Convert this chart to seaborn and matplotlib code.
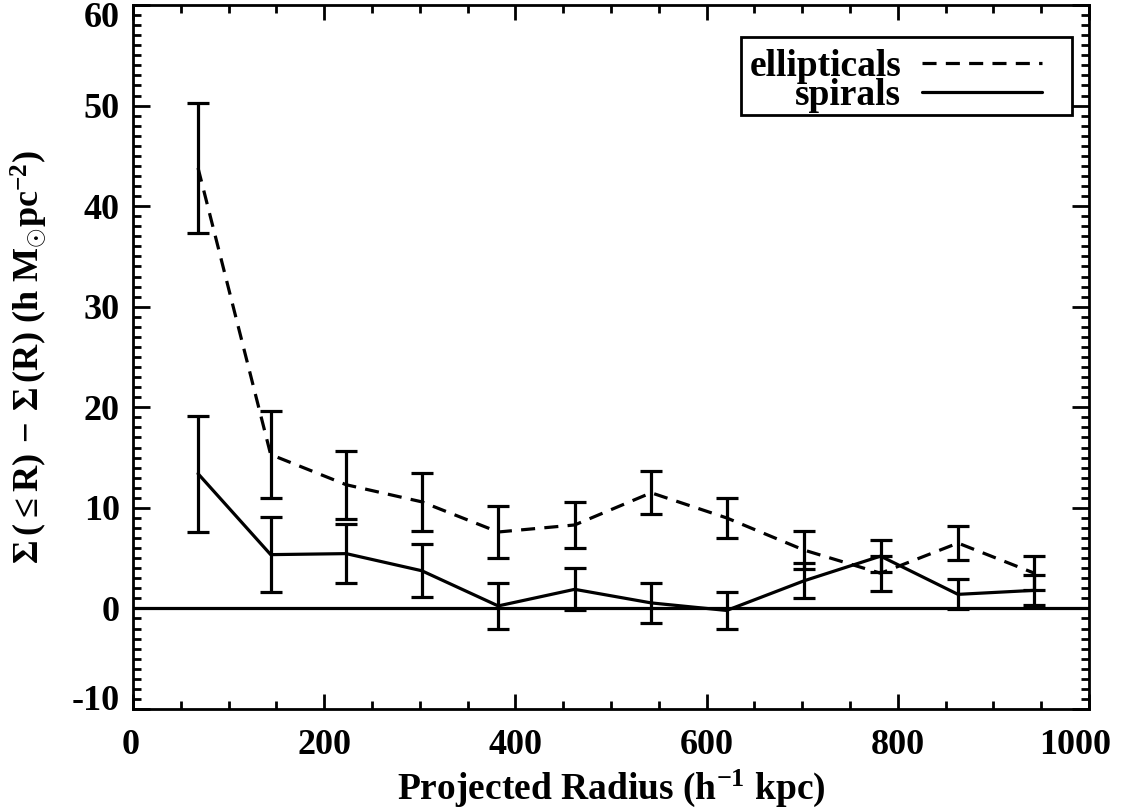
import matplotlib
matplotlib.use("Agg")
import matplotlib.pyplot as plt
import matplotlib.transforms as mtransforms
from matplotlib.patches import Rectangle
from matplotlib.ticker import MultipleLocator
import pandas as pd
import seaborn as sns

# Excess surface density profiles around the two galaxy populations
radius = [68, 144, 223, 302, 382, 462, 542, 621, 702, 782, 863, 943]
ell_sigma = [43.8, 15.3, 12.3, 10.6, 7.6, 8.3, 11.5, 9.0, 5.8, 3.5, 6.5, 3.5]
ell_err = [6.5, 4.3, 3.4, 2.9, 2.55, 2.3, 2.15, 2.0, 1.9, 1.75, 1.7, 1.7]
spi_sigma = [13.4, 5.35, 5.45, 3.75, 0.25, 1.9, 0.55, -0.2, 2.75, 5.2, 1.4, 1.8]
spi_err = [5.75, 3.75, 2.95, 2.65, 2.25, 2.1, 1.95, 1.8, 1.75, 1.6, 1.5, 1.5]

series_names = ["ellipticals", "spirals"]
x_ticks = [0, 200, 400, 600, 800, 1000]
y_ticks = [-10, 0, 10, 20, 30, 40, 50, 60]

sns.set_theme(style="ticks")
plt.rcParams.update({
    "font.family": ["Liberation Serif", "DejaVu Serif"],
    "font.weight": "bold",
    "axes.labelweight": "bold",
    "mathtext.fontset": "custom",
    "mathtext.rm": "Liberation Serif:bold",
    "mathtext.it": "Liberation Serif:bold",
    "mathtext.bf": "Liberation Serif:bold",
    "mathtext.sf": "Liberation Serif:bold",
    "axes.unicode_minus": False,
    "axes.edgecolor": "black",
    "axes.linewidth": 2.0,
    "text.color": "black",
    "axes.labelcolor": "black",
    "xtick.color": "black",
    "ytick.color": "black",
    "figure.facecolor": "white",
    "axes.facecolor": "white",
})

LW = 2.3
TICK_FS = 26
LABEL_FS = 27

fig = plt.figure(figsize=(11.36, 8.09), dpi=100)
ax = fig.add_axes([0.1171, 0.1236, 0.8415, 0.8702])

df_ell = pd.DataFrame({"radius": radius, "sigma": ell_sigma})
df_spi = pd.DataFrame({"radius": radius, "sigma": spi_sigma})

sns.lineplot(data=df_ell, x="radius", y="sigma", color="black", linewidth=LW,
             linestyle=(0, (4.4, 2.9)), label=series_names[0], errorbar=None, ax=ax)
sns.lineplot(data=df_spi, x="radius", y="sigma", color="black", linewidth=LW,
             linestyle="-", label=series_names[1], errorbar=None, ax=ax)

ax.errorbar(radius, ell_sigma, yerr=ell_err, fmt="none", ecolor="black",
            elinewidth=LW, capsize=8, capthick=LW)
ax.errorbar(radius, spi_sigma, yerr=spi_err, fmt="none", ecolor="black",
            elinewidth=LW, capsize=8, capthick=LW)

ax.axhline(0, color="black", linewidth=LW)

ax.set_xlim(0, 1000)
ax.set_ylim(-10, 60)
ax.set_xticks(x_ticks)
ax.set_yticks(y_ticks)
ax.xaxis.set_minor_locator(MultipleLocator(50))
ax.yaxis.set_minor_locator(MultipleLocator(1))
ax.tick_params(which="both", direction="in", top=True, right=True, width=2.0)
ax.tick_params(axis="x", which="major", length=10.5, pad=14.5, labelsize=TICK_FS)
ax.tick_params(axis="y", which="major", length=12, pad=9.5, labelsize=TICK_FS)
ax.tick_params(which="minor", length=5.5)
for lbl in ax.get_xticklabels() + ax.get_yticklabels():
    lbl.set_fontweight("bold")

# pull the end labels inward, away from the corners
def nudge(text, dx_pt, dy_pt):
    text.set_transform(text.get_transform() +
                       mtransforms.ScaledTranslation(dx_pt / 72, dy_pt / 72, fig.dpi_scale_trans))

yt = ax.yaxis.get_major_ticks()
nudge(yt[0].label1, 0, 8)
nudge(yt[-1].label1, 0, -7)
xt = ax.xaxis.get_major_ticks()
nudge(xt[-1].label1, -10, 0)
nudge(xt[0].label1, -2, 0)

ax.set_xlabel(r"Projected Radius (h$^{-1}$ kpc)", fontsize=LABEL_FS, fontweight="bold")
ax.set_ylabel(r"$\Sigma\,(\leq$R$)\,-\,\Sigma\,($R$)$ (h M$_{\odot}$pc$^{-2})$",
              fontsize=26, fontweight="bold")
ax.xaxis.set_label_coords(0.5, -0.084)
ax.yaxis.set_label_coords(-0.087, 0.5)

handles, labels = ax.get_legend_handles_labels()
leg = ax.legend(handles[:2], labels[:2], loc="upper right", bbox_to_anchor=(0.9508, 0.938),
                borderaxespad=0, borderpad=0, markerfirst=False, frameon=False,
                handlelength=3.2, handletextpad=0.55, labelspacing=-0.15,
                prop={"family": "Liberation Serif", "weight": "bold", "size": LABEL_FS})
ax.add_patch(Rectangle((0.636, 0.8438), 0.346, 0.1107, transform=ax.transAxes,
                       fill=False, edgecolor="black", linewidth=2.0, zorder=5))

fig.savefig("out.png", dpi=100)
